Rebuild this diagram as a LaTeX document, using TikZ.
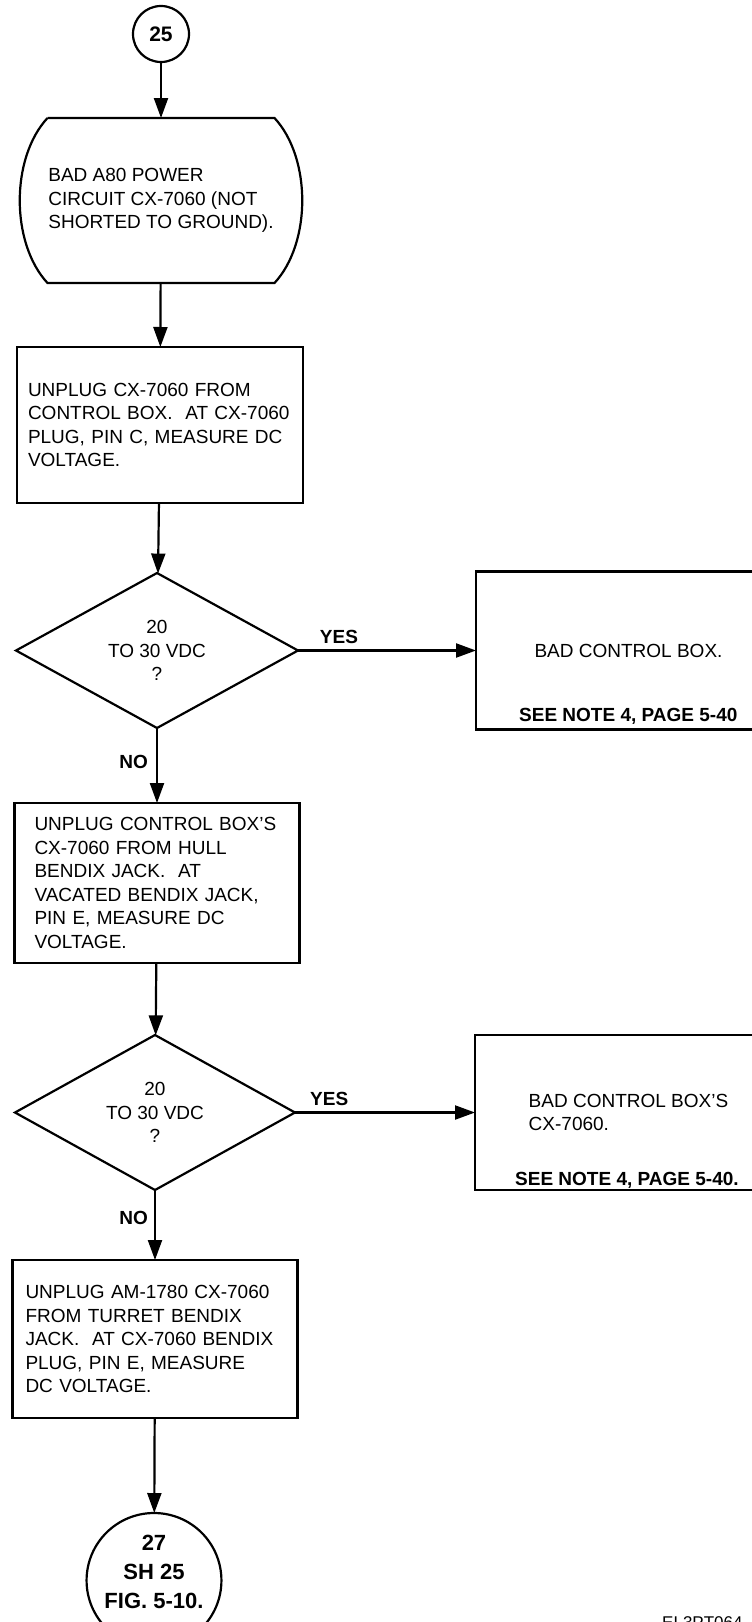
\documentclass[tikz,border=0pt]{standalone}
\usepackage{fontspec}
\setmainfont{Liberation Sans}
\usepackage{tikz}
\usetikzlibrary{shapes.geometric, arrows.meta, positioning}

\newcommand{\bodyfont}{\fontsize{19}{23.5}\selectfont}
\newcommand{\notefont}{\fontsize{19}{23.5}\selectfont\bfseries}
\newcommand{\connfont}{\fontsize{22}{29}\selectfont\bfseries}

\begin{document}
\begin{tikzpicture}[
    x=1pt, y=-1pt,
    stepbox/.style={rectangle, draw, line width=2.2pt, outer sep=0pt, align=left,
                    minimum height=156pt, inner ysep=0pt, font=\bodyfont},
    query/.style={diamond, draw, line width=2.2pt, outer sep=0pt, aspect=2, inner sep=0pt,
                  minimum width=282pt, minimum height=155pt,
                  align=center, font=\bodyfont},
    fault/.style={rectangle, draw, line width=2.2pt, outer sep=0pt, align=left,
                  minimum width=305pt, minimum height=158pt, font=\bodyfont},
    conn/.style={circle, draw, line width=2.2pt, outer sep=0pt, inner sep=0pt,
                 align=center, font=\connfont},
    lbl/.style={inner sep=0pt, font=\notefont},
    arr/.style={-{Triangle[length=20pt,width=14pt]}, line width=2.2pt},
]
\useasboundingbox (0,0) rectangle (752,1622);

% main column
\node[conn, minimum size=56pt, font=\fontsize{21}{24}\selectfont\bfseries] (c25) at (161,34) {25};
\node[align=left, minimum width=227pt, minimum height=165pt, inner sep=0pt, outer sep=0pt,
      font=\bodyfont, below=56pt of c25] (bad)
     {BAD A80 POWER\\CIRCUIT CX-7060 (NOT\\SHORTED TO GROUND).};
\node[stepbox, text width=264pt, inner xsep=11pt, below=64pt of bad, xshift=-1pt] (chk1)
     {UNPLUG CX-7060 FROM\\CONTROL BOX.\ \ AT CX-7060\\PLUG, PIN C, MEASURE DC\\VOLTAGE.};
\node[query, below=70pt of chk1, xshift=-3pt] (d1) {20\\TO 30 VDC\\?};
\node[stepbox, text width=245pt, inner xsep=20pt, minimum height=160pt,
      below=75pt of d1] (chk2)
     {UNPLUG CONTROL BOX'S\\CX-7060 FROM HULL\\BENDIX JACK.\ \ AT\\VACATED BENDIX JACK,\\PIN E, MEASURE DC\\VOLTAGE.};
\node[query, minimum width=280pt, below=72pt of chk2, xshift=-2pt] (d2) {20\\TO 30 VDC\\?};
\node[stepbox, text width=259pt, inner xsep=13pt, minimum height=158pt,
      below=70pt of d2] (chk3)
     {UNPLUG AM-1780 CX-7060\\FROM TURRET BENDIX\\JACK.\ \ AT CX-7060 BENDIX\\PLUG, PIN E, MEASURE\\DC VOLTAGE.};
\node[conn, minimum size=112pt, text depth=18pt, below=95pt of chk3, xshift=-1pt] (c27)
     {27\\SH 25\\FIG. 5-10.};

% right column
\node[fault, right=178pt of d1] (fault1) {BAD CONTROL BOX.};
\node[lbl, anchor=base west] (note1) at ([xshift=43pt, yshift=8pt]fault1.south west)
     {SEE NOTE 4, PAGE 5-40};
\node[fault, minimum width=307pt, minimum height=155pt, right=180pt of d2] (fault2)
     {BAD CONTROL BOX'S\\CX-7060.};
\node[lbl, anchor=base west] (note2) at ([xshift=40pt, yshift=5pt]fault2.south west)
     {SEE NOTE 4, PAGE 5-40.};

% terminal outline
\draw[line width=2.2pt] (bad.north west) -- (bad.north east)
    .. controls +(37pt,-40pt) and +(37pt,40pt) .. (bad.south east)
    -- (bad.south west)
    .. controls +(-37pt,40pt) and +(-37pt,-40pt) .. (bad.north west);

\draw[arr] (c25) -- (bad);
\draw[arr] (bad) -- (chk1);
\draw[arr] (chk1) -- (d1);
\draw[arr] (d1) -- node[lbl, pos=0.45, left=8pt] {NO} (chk2);
\draw[arr] (d1.east) -- node[lbl, pos=0.23, above=6pt] {YES} (fault1.west);
\draw[arr] (chk2) -- (d2);
\draw[arr] (d2) -- node[lbl, pos=0.4, left=6pt] {NO} (chk3);
\draw[arr] (d2.east) -- node[lbl, pos=0.19, above=6pt] {YES} (fault2.west);
\draw[arr] (chk3) -- (c27);

\node[anchor=base west, inner sep=0pt, font=\fontsize{17}{20}\selectfont] (figcode)
     at (662,1628) {EL3PT064};
\end{tikzpicture}
\end{document}
